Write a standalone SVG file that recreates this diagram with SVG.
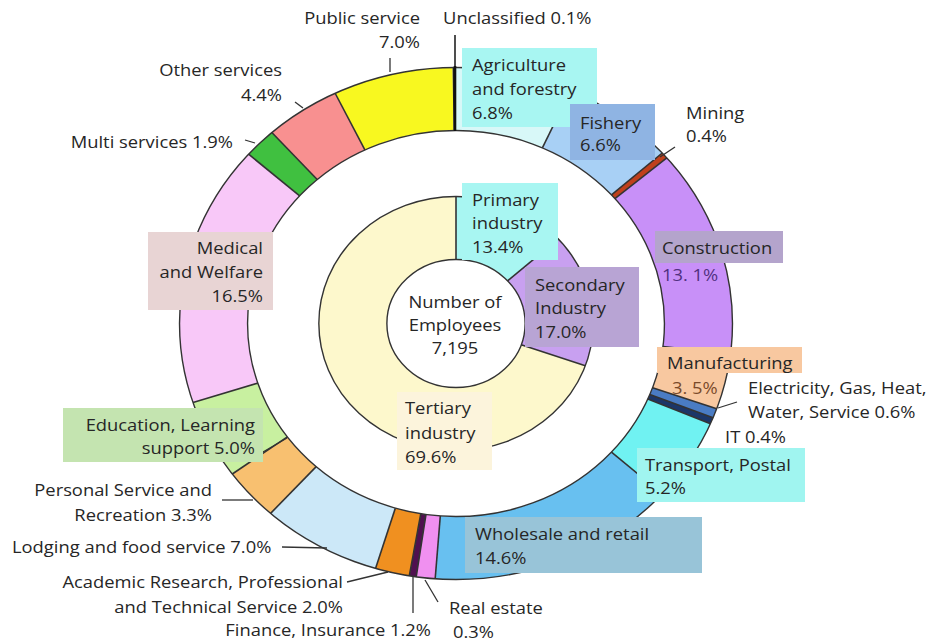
<svg xmlns="http://www.w3.org/2000/svg" width="930" height="643" viewBox="0 0 930 643">
<style>
.seg{fill:none;stroke-width:63}
.ol{fill:none;stroke:#333;stroke-width:1.4;vector-effect:non-scaling-stroke}
.sep{stroke:#333;stroke-width:1.6;vector-effect:non-scaling-stroke}
.ld{stroke:#333;stroke-width:1.3;fill:none}
text{font-family:"Open Sans","Noto Sans","DejaVu Sans",sans-serif;font-size:17px;fill:#262626}
.e{text-anchor:end}
.m{text-anchor:middle}
</style>
<rect width="930" height="643" fill="#ffffff"/>
<g id="chart" transform="translate(456 323.5) scale(1.08 1)">
 <g id="outer-ring" transform="rotate(-90)">
  <circle class="seg" r="224.5" pathLength="100" stroke="#d8f8f8" stroke-dasharray="6.8 100" stroke-dashoffset="0"/>
  <circle class="seg" r="224.5" pathLength="100" stroke="#a8d0f5" stroke-dasharray="6.6 100" stroke-dashoffset="-6.8"/>
  <circle class="seg" r="224.5" pathLength="100" stroke="#c0401c" stroke-dasharray="0.4 100" stroke-dashoffset="-13.4"/>
  <circle class="seg" r="224.5" pathLength="100" stroke="#c890f8" stroke-dasharray="13.1 100" stroke-dashoffset="-13.8"/>
  <circle class="seg" r="224.5" pathLength="100" stroke="#f8c8a0" stroke-dasharray="3.5 100" stroke-dashoffset="-26.9"/>
  <circle class="seg" r="224.5" pathLength="100" stroke="#4a7cc4" stroke-dasharray="0.6 100" stroke-dashoffset="-30.4"/>
  <circle class="seg" r="224.5" pathLength="100" stroke="#1c3668" stroke-dasharray="0.4 100" stroke-dashoffset="-31.0"/>
  <circle class="seg" r="224.5" pathLength="100" stroke="#70f2f2" stroke-dasharray="5.2 100" stroke-dashoffset="-31.4"/>
  <circle class="seg" r="224.5" pathLength="100" stroke="#68c0f0" stroke-dasharray="14.6 100" stroke-dashoffset="-36.6"/>
  <circle class="seg" r="224.5" pathLength="100" stroke="#f090f0" stroke-dasharray="1.1 100" stroke-dashoffset="-51.2"/>
  <circle class="seg" r="224.5" pathLength="100" stroke="#501050" stroke-dasharray="0.4 100" stroke-dashoffset="-52.3"/>
  <circle class="seg" r="224.5" pathLength="100" stroke="#f09020" stroke-dasharray="2.0 100" stroke-dashoffset="-52.7"/>
  <circle class="seg" r="224.5" pathLength="100" stroke="#cce8f8" stroke-dasharray="7.0 100" stroke-dashoffset="-54.7"/>
  <circle class="seg" r="224.5" pathLength="100" stroke="#f8c070" stroke-dasharray="3.3 100" stroke-dashoffset="-61.7"/>
  <circle class="seg" r="224.5" pathLength="100" stroke="#c8f0a0" stroke-dasharray="5.0 100" stroke-dashoffset="-65.0"/>
  <circle class="seg" r="224.5" pathLength="100" stroke="#f8c8f8" stroke-dasharray="16.5 100" stroke-dashoffset="-70.0"/>
  <circle class="seg" r="224.5" pathLength="100" stroke="#40c040" stroke-dasharray="1.9 100" stroke-dashoffset="-86.5"/>
  <circle class="seg" r="224.5" pathLength="100" stroke="#f89090" stroke-dasharray="4.4 100" stroke-dashoffset="-88.4"/>
  <circle class="seg" r="224.5" pathLength="100" stroke="#f8f820" stroke-dasharray="7.0 100" stroke-dashoffset="-92.8"/>
  <circle class="seg" r="224.5" pathLength="100" stroke="#222222" stroke-dasharray="0.2 100" stroke-dashoffset="-99.8"/>
 </g>
 <g id="inner-ring" transform="rotate(-90)">
  <circle class="seg" r="95.5" pathLength="100" stroke="#a8f6f2" stroke-dasharray="13.4 100" stroke-dashoffset="0"/>
  <circle class="seg" r="95.5" pathLength="100" stroke="#c8a0f0" stroke-dasharray="17.0 100" stroke-dashoffset="-13.4"/>
  <circle class="seg" r="95.5" pathLength="100" stroke="#fdf8cc" stroke-dasharray="69.6 100" stroke-dashoffset="-30.4"/>
 </g>
 <g id="separators">
  <line class="sep" x1="0" y1="-193" x2="0" y2="-256" transform="rotate(24.48)"/>
  <line class="sep" x1="0" y1="-193" x2="0" y2="-256" transform="rotate(48.24)"/>
  <line class="sep" x1="0" y1="-193" x2="0" y2="-256" transform="rotate(49.68)"/>
  <line class="sep" x1="0" y1="-193" x2="0" y2="-256" transform="rotate(96.84)"/>
  <line class="sep" x1="0" y1="-193" x2="0" y2="-256" transform="rotate(109.44)"/>
  <line class="sep" x1="0" y1="-193" x2="0" y2="-256" transform="rotate(111.6)"/>
  <line class="sep" x1="0" y1="-193" x2="0" y2="-256" transform="rotate(113.04)"/>
  <line class="sep" x1="0" y1="-193" x2="0" y2="-256" transform="rotate(131.76)"/>
  <line class="sep" x1="0" y1="-193" x2="0" y2="-256" transform="rotate(184.32)"/>
  <line class="sep" x1="0" y1="-193" x2="0" y2="-256" transform="rotate(188.28)"/>
  <line class="sep" x1="0" y1="-193" x2="0" y2="-256" transform="rotate(189.72)"/>
  <line class="sep" x1="0" y1="-193" x2="0" y2="-256" transform="rotate(196.92)"/>
  <line class="sep" x1="0" y1="-193" x2="0" y2="-256" transform="rotate(222.12)"/>
  <line class="sep" x1="0" y1="-193" x2="0" y2="-256" transform="rotate(234)"/>
  <line class="sep" x1="0" y1="-193" x2="0" y2="-256" transform="rotate(252)"/>
  <line class="sep" x1="0" y1="-193" x2="0" y2="-256" transform="rotate(311.4)"/>
  <line class="sep" x1="0" y1="-193" x2="0" y2="-256" transform="rotate(318.24)"/>
  <line class="sep" x1="0" y1="-193" x2="0" y2="-256" transform="rotate(334.08)"/>
  <line class="sep" x1="0" y1="-64" x2="0" y2="-127"/>
  <line class="sep" x1="0" y1="-64" x2="0" y2="-127" transform="rotate(48.24)"/>
  <line class="sep" x1="0" y1="-64" x2="0" y2="-127" transform="rotate(109.44)"/>
 </g>
 <circle class="ol" r="256"/>
 <circle class="ol" r="193"/>
 <circle class="ol" r="127"/>
 <circle class="ol" r="64"/>
</g>
<g id="connectors">
 <line x1="455" y1="35" x2="455" y2="67" stroke="#222" stroke-width="1.6"/>
 <line x1="455" y1="66" x2="455" y2="131" stroke="#111" stroke-width="2.6"/>
 <line class="ld" x1="390" y1="58" x2="390" y2="72"/>
 <line class="ld" x1="295" y1="102" x2="303" y2="108"/>
 <line class="ld" x1="245" y1="140" x2="255" y2="143"/>
 <line class="ld" x1="660" y1="157" x2="675" y2="147"/>
 <line class="ld" x1="718" y1="408" x2="737" y2="402"/>
 <line class="ld" x1="425" y1="580" x2="438" y2="602"/>
 <line class="ld" x1="413" y1="577" x2="413" y2="613"/>
 <line class="ld" x1="347" y1="582" x2="388" y2="572"/>
 <line class="ld" x1="282" y1="547" x2="327" y2="548"/>
 <line class="ld" x1="222" y1="500" x2="253" y2="500"/>
 <line class="ld" x1="263" y1="452" x2="287" y2="438"/>
</g>
<g id="public-service"><text class="e" transform="translate(420 24) scale(1.08 1)"><tspan x="0" y="0">Public service</tspan><tspan x="0" y="24">7.0%</tspan></text></g>
<g id="unclassified"><text transform="translate(443 24) scale(1.08 1)">Unclassified 0.1%</text></g>
<g id="agriculture"><rect x="462" y="48" width="135" height="79" fill="#a8f6f2"/><text transform="translate(472 71) scale(1.08 1)"><tspan x="0" y="0">Agriculture</tspan><tspan x="0" y="24">and forestry</tspan><tspan x="0" y="48">6.8%</tspan></text></g>
<g id="fishery"><rect x="570" y="104" width="85" height="56" fill="#8fb4e3"/><text transform="translate(580 129) scale(1.08 1)"><tspan x="0" y="0">Fishery</tspan><tspan x="0" y="22">6.6%</tspan></text></g>
<g id="mining"><text transform="translate(686 119) scale(1.08 1)"><tspan x="0" y="0">Mining</tspan><tspan x="0" y="23">0.4%</tspan></text></g>
<g id="construction"><rect x="655" y="231" width="128" height="32" fill="#b4a4cc"/><text transform="translate(662 254) scale(1.08 1)">Construction</text><text transform="translate(662 281) scale(1.08 1)" style="fill:#503080">13. 1%</text></g>
<g id="manufacturing"><rect x="657" y="347" width="145" height="26" fill="#f8c8a0"/><text transform="translate(667 369) scale(1.08 1)">Manufacturing</text><text transform="translate(672 394) scale(1.08 1)" style="fill:#7a4a2a">3. 5%</text></g>
<g id="electricity"><text transform="translate(748 394) scale(1.08 1)"><tspan x="0" y="0">Electricity,  Gas, Heat,</tspan><tspan x="0" y="24">Water, Service 0.6%</tspan></text></g>
<g id="it"><text transform="translate(725 443) scale(1.08 1)">IT 0.4%</text></g>
<g id="transport"><rect x="637" y="448" width="168" height="54" fill="#a0f5f0"/><text transform="translate(645 471) scale(1.08 1)"><tspan x="0" y="0">Transport, Postal</tspan><tspan x="0" y="23">5.2%</tspan></text></g>
<g id="wholesale"><rect x="465" y="517" width="237" height="56" fill="#98c4d8"/><text transform="translate(475 540) scale(1.08 1)"><tspan x="0" y="0">Wholesale and retail</tspan><tspan x="0" y="24">14.6%</tspan></text></g>
<g id="real-estate"><text transform="translate(449 614) scale(1.08 1)">Real estate</text><text transform="translate(453 638) scale(1.08 1)">0.3%</text></g>
<g id="finance"><text class="e" transform="translate(431 636) scale(1.08 1)">Finance, Insurance 1.2%</text></g>
<g id="academic"><text class="e" transform="translate(343 588) scale(1.08 1)"><tspan x="0" y="0">Academic Research, Professional</tspan><tspan x="0" y="25">and Technical Service 2.0%</tspan></text></g>
<g id="lodging"><text transform="translate(12 553) scale(1.08 1)">Lodging and food service  7.0%</text></g>
<g id="personal"><text class="e" transform="translate(212 496) scale(1.08 1)"><tspan x="0" y="0">Personal Service  and</tspan><tspan x="0" y="25">Recreation 3.3%</tspan></text></g>
<g id="education"><rect x="63" y="408" width="200" height="54" fill="#c4e4b0"/><text class="e" transform="translate(255 431) scale(1.08 1)"><tspan x="0" y="0">Education, Learning</tspan><tspan x="0" y="23">support 5.0%</tspan></text></g>
<g id="medical"><rect x="148" y="232" width="125" height="78" fill="#e8d4d4"/><text class="e" transform="translate(263 254) scale(1.08 1)"><tspan x="0" y="0">Medical</tspan><tspan x="0" y="24">and Welfare</tspan><tspan x="0" y="48">16.5%</tspan></text></g>
<g id="multi"><text class="e" transform="translate(233 148) scale(1.08 1)">Multi services 1.9%</text></g>
<g id="other"><text class="e" transform="translate(282 76) scale(1.08 1)"><tspan x="0" y="0">Other services</tspan><tspan x="0" y="25">4.4%</tspan></text></g>
<g id="primary"><rect x="462" y="183" width="96" height="77" fill="#a8f6f2"/><text transform="translate(472 206) scale(1.08 1)"><tspan x="0" y="0">Primary</tspan><tspan x="0" y="23">industry</tspan><tspan x="0" y="47">13.4%</tspan></text></g>
<g id="secondary"><rect x="525" y="267" width="114" height="80" fill="#b8a4d4"/><text transform="translate(535 291) scale(1.08 1)"><tspan x="0" y="0">Secondary</tspan><tspan x="0" y="23">Industry</tspan><tspan x="0" y="47">17.0%</tspan></text></g>
<g id="total"><text class="m" transform="translate(455 308) scale(1.08 1)"><tspan x="0" y="0">Number of</tspan><tspan x="0" y="23">Employees</tspan><tspan x="0" y="46">7,195</tspan></text></g>
<g id="tertiary"><rect x="397" y="392" width="95" height="78" fill="#fcf4dc"/><text transform="translate(405 414) scale(1.08 1)"><tspan x="0" y="0">Tertiary</tspan><tspan x="0" y="25">industry</tspan><tspan x="0" y="49">69.6%</tspan></text></g>
</svg>
